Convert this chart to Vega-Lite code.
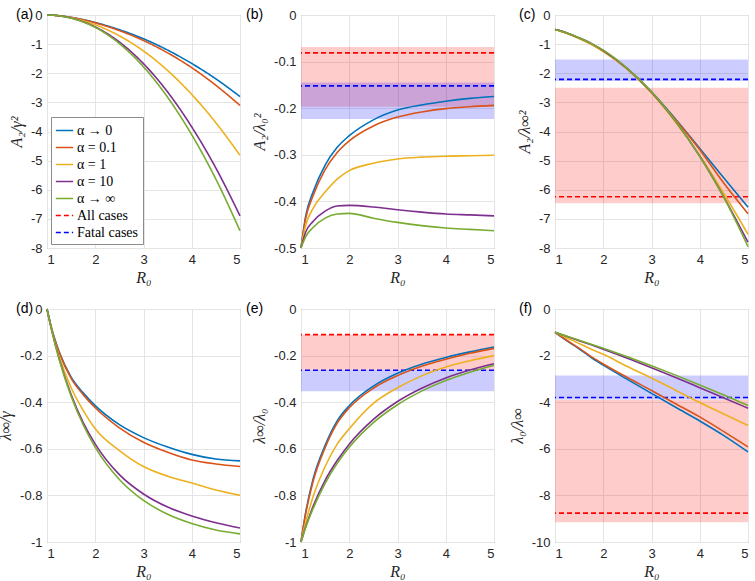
{
  "$schema": "https://vega.github.io/schema/vega-lite/v6.json",
  "padding": {"left": -3, "top": 7, "right": 5, "bottom": 5},
  "background": "white",
  "datasets": {
    "curves": [
      {"series": "α → 0", "R0": 1, "a": 0, "b": -0.5, "c": -0.5, "d": 0, "e": -1, "f": -1},
      {"series": "α → 0", "R0": 1.1, "a": -0.0043, "b": -0.43, "c": -0.545, "d": -0.087, "e": -0.87, "f": -1.149},
      {"series": "α → 0", "R0": 1.25, "a": -0.0238, "b": -0.38, "c": -0.63, "d": -0.1825, "e": -0.73, "f": -1.37},
      {"series": "α → 0", "R0": 1.5, "a": -0.0805, "b": -0.322, "c": -0.8, "d": -0.2925, "e": -0.585, "f": -1.709},
      {"series": "α → 0", "R0": 1.75, "a": -0.1598, "b": -0.284, "c": -1.0, "d": -0.36, "e": -0.48, "f": -2.083},
      {"series": "α → 0", "R0": 2, "a": -0.259, "b": -0.259, "c": -1.24, "d": -0.415, "e": -0.415, "f": -2.41},
      {"series": "α → 0", "R0": 2.5, "a": -0.506, "b": -0.225, "c": -1.85, "d": -0.4965, "e": -0.331, "f": -3.021},
      {"series": "α → 0", "R0": 3, "a": -0.816, "b": -0.204, "c": -2.64, "d": -0.552, "e": -0.276, "f": -3.623},
      {"series": "α → 0", "R0": 3.5, "a": -1.206, "b": -0.193, "c": -3.58, "d": -0.5925, "e": -0.237, "f": -4.219},
      {"series": "α → 0", "R0": 4, "a": -1.665, "b": -0.185, "c": -4.58, "d": -0.624, "e": -0.208, "f": -4.808},
      {"series": "α → 0", "R0": 4.5, "a": -2.193, "b": -0.179, "c": -5.6, "d": -0.644, "e": -0.184, "f": -5.435},
      {"series": "α → 0", "R0": 5, "a": -2.8, "b": -0.175, "c": -6.6, "d": -0.652, "e": -0.163, "f": -6.135},

      {"series": "α = 0.1", "R0": 1, "a": 0, "b": -0.5, "c": -0.5, "d": 0, "e": -1, "f": -1},
      {"series": "α = 0.1", "R0": 1.1, "a": -0.00435, "b": -0.435, "c": -0.545, "d": -0.0875, "e": -0.875, "f": -1.143},
      {"series": "α = 0.1", "R0": 1.25, "a": -0.0243, "b": -0.388, "c": -0.63, "d": -0.185, "e": -0.74, "f": -1.351},
      {"series": "α = 0.1", "R0": 1.5, "a": -0.083, "b": -0.332, "c": -0.8, "d": -0.2975, "e": -0.595, "f": -1.681},
      {"series": "α = 0.1", "R0": 1.75, "a": -0.1659, "b": -0.295, "c": -1.0, "d": -0.3675, "e": -0.49, "f": -2.041},
      {"series": "α = 0.1", "R0": 2, "a": -0.27, "b": -0.27, "c": -1.24, "d": -0.424, "e": -0.424, "f": -2.358},
      {"series": "α = 0.1", "R0": 2.5, "a": -0.5355, "b": -0.238, "c": -1.86, "d": -0.51, "e": -0.34, "f": -2.941},
      {"series": "α = 0.1", "R0": 3, "a": -0.876, "b": -0.219, "c": -2.65, "d": -0.572, "e": -0.286, "f": -3.497},
      {"series": "α = 0.1", "R0": 3.5, "a": -1.3, "b": -0.208, "c": -3.6, "d": -0.615, "e": -0.246, "f": -4.065},
      {"series": "α = 0.1", "R0": 4, "a": -1.809, "b": -0.201, "c": -4.63, "d": -0.648, "e": -0.216, "f": -4.63},
      {"series": "α = 0.1", "R0": 4.5, "a": -2.413, "b": -0.197, "c": -5.78, "d": -0.665, "e": -0.19, "f": -5.263},
      {"series": "α = 0.1", "R0": 5, "a": -3.104, "b": -0.194, "c": -6.82, "d": -0.676, "e": -0.169, "f": -5.917},

      {"series": "α = 1", "R0": 1, "a": 0, "b": -0.5, "c": -0.5, "d": 0, "e": -1, "f": -1},
      {"series": "α = 1", "R0": 1.1, "a": -0.0045, "b": -0.45, "c": -0.545, "d": -0.0913, "e": -0.913, "f": -1.095},
      {"series": "α = 1", "R0": 1.25, "a": -0.0259, "b": -0.415, "c": -0.635, "d": -0.2015, "e": -0.806, "f": -1.241},
      {"series": "α = 1", "R0": 1.5, "a": -0.095, "b": -0.38, "c": -0.81, "d": -0.338, "e": -0.676, "f": -1.479},
      {"series": "α = 1", "R0": 1.75, "a": -0.198, "b": -0.352, "c": -1.01, "d": -0.435, "e": -0.58, "f": -1.724},
      {"series": "α = 1", "R0": 2, "a": -0.334, "b": -0.334, "c": -1.26, "d": -0.514, "e": -0.514, "f": -1.946},
      {"series": "α = 1", "R0": 2.5, "a": -0.7155, "b": -0.318, "c": -1.87, "d": -0.6075, "e": -0.405, "f": -2.469},
      {"series": "α = 1", "R0": 3, "a": -1.236, "b": -0.309, "c": -2.68, "d": -0.676, "e": -0.338, "f": -2.959},
      {"series": "α = 1", "R0": 3.5, "a": -1.906, "b": -0.305, "c": -3.68, "d": -0.7175, "e": -0.287, "f": -3.484},
      {"series": "α = 1", "R0": 4, "a": -2.727, "b": -0.303, "c": -4.82, "d": -0.747, "e": -0.249, "f": -4.016},
      {"series": "α = 1", "R0": 4.5, "a": -3.7, "b": -0.302, "c": -6.13, "d": -0.777, "e": -0.222, "f": -4.505},
      {"series": "α = 1", "R0": 5, "a": -4.816, "b": -0.301, "c": -7.53, "d": -0.8, "e": -0.2, "f": -5.0},

      {"series": "α = 10", "R0": 1, "a": 0, "b": -0.5, "c": -0.5, "d": 0, "e": -1, "f": -1},
      {"series": "α = 10", "R0": 1.1, "a": -0.00465, "b": -0.465, "c": -0.534, "d": -0.0933, "e": -0.933, "f": -1.072},
      {"series": "α = 10", "R0": 1.25, "a": -0.0277, "b": -0.443, "c": -0.618, "d": -0.2118, "e": -0.847, "f": -1.181},
      {"series": "α = 10", "R0": 1.5, "a": -0.1053, "b": -0.421, "c": -0.785, "d": -0.3675, "e": -0.735, "f": -1.361},
      {"series": "α = 10", "R0": 1.75, "a": -0.2306, "b": -0.41, "c": -0.975, "d": -0.4875, "e": -0.65, "f": -1.538},
      {"series": "α = 10", "R0": 2, "a": -0.4086, "b": -0.4086, "c": -1.22, "d": -0.58, "e": -0.58, "f": -1.724},
      {"series": "α = 10", "R0": 2.5, "a": -0.927, "b": -0.412, "c": -1.84, "d": -0.711, "e": -0.474, "f": -2.11},
      {"series": "α = 10", "R0": 3, "a": -1.672, "b": -0.418, "c": -2.65, "d": -0.794, "e": -0.397, "f": -2.519},
      {"series": "α = 10", "R0": 3.5, "a": -2.644, "b": -0.423, "c": -3.65, "d": -0.85, "e": -0.34, "f": -2.941},
      {"series": "α = 10", "R0": 4, "a": -3.843, "b": -0.427, "c": -4.85, "d": -0.888, "e": -0.296, "f": -3.378},
      {"series": "α = 10", "R0": 4.5, "a": -5.255, "b": -0.429, "c": -6.25, "d": -0.917, "e": -0.262, "f": -3.817},
      {"series": "α = 10", "R0": 5, "a": -6.896, "b": -0.431, "c": -7.8, "d": -0.94, "e": -0.235, "f": -4.255},

      {"series": "α → ∞", "R0": 1, "a": 0, "b": -0.5, "c": -0.5, "d": 0, "e": -1, "f": -1},
      {"series": "α → ∞", "R0": 1.1, "a": -0.00475, "b": -0.475, "c": -0.542, "d": -0.0936, "e": -0.936, "f": -1.068},
      {"series": "α → ∞", "R0": 1.25, "a": -0.0285, "b": -0.456, "c": -0.621, "d": -0.2143, "e": -0.857, "f": -1.167},
      {"series": "α → ∞", "R0": 1.5, "a": -0.109, "b": -0.436, "c": -0.779, "d": -0.374, "e": -0.748, "f": -1.337},
      {"series": "α → ∞", "R0": 1.75, "a": -0.2402, "b": -0.427, "c": -0.973, "d": -0.4969, "e": -0.6625, "f": -1.509},
      {"series": "α → ∞", "R0": 2, "a": -0.4257, "b": -0.4257, "c": -1.208, "d": -0.5936, "e": -0.5936, "f": -1.685},
      {"series": "α → ∞", "R0": 2.5, "a": -0.981, "b": -0.436, "c": -1.833, "d": -0.7316, "e": -0.4877, "f": -2.05},
      {"series": "α → ∞", "R0": 3, "a": -1.78, "b": -0.445, "c": -2.636, "d": -0.8216, "e": -0.4108, "f": -2.434},
      {"series": "α → ∞", "R0": 3.5, "a": -2.825, "b": -0.452, "c": -3.639, "d": -0.881, "e": -0.3524, "f": -2.838},
      {"series": "α → ∞", "R0": 4, "a": -4.113, "b": -0.457, "c": -4.852, "d": -0.9207, "e": -0.3069, "f": -3.258},
      {"series": "α → ∞", "R0": 4.5, "a": -5.635, "b": -0.46, "c": -6.264, "d": -0.9485, "e": -0.271, "f": -3.69},
      {"series": "α → ∞", "R0": 5, "a": -7.408, "b": -0.463, "c": -7.951, "d": -0.9652, "e": -0.2413, "f": -4.144}
    ],
    "refs": [
      {"panel": "b", "series": "All cases", "value": -0.0813, "lo": -0.0685, "hi": -0.197},
      {"panel": "b", "series": "Fatal cases", "value": -0.152, "lo": -0.1447, "hi": -0.223},
      {"panel": "c", "series": "All cases", "value": -6.24, "lo": -2.5, "hi": -6.46},
      {"panel": "c", "series": "Fatal cases", "value": -2.21, "lo": -1.53, "hi": -2.27},
      {"panel": "e", "series": "All cases", "value": -0.11, "lo": -0.11, "hi": -0.263},
      {"panel": "e", "series": "Fatal cases", "value": -0.263, "lo": -0.263, "hi": -0.353},
      {"panel": "f", "series": "All cases", "value": -8.76, "lo": -3.9, "hi": -9.15},
      {"panel": "f", "series": "Fatal cases", "value": -3.8, "lo": -2.85, "hi": -3.88}
    ]
  },
  "columns": 3,
  "spacing": 61,
  "bounds": "flush",
  "resolve": {"legend": {"color": "independent", "strokeDash": "independent"}},
  "concat": [
    {
      "width": 193, "height": 233,
      "title": {"text": "(a)", "dx": -31},
      "data": {"name": "curves"},
      "mark": {"type": "line", "strokeWidth": 1.6, "interpolate": "monotone"},
      "encoding": {
        "x": {"field": "R0", "type": "quantitative", "scale": {"domain": [1, 5], "nice": false, "zero": false}, "axis": {"title": "R₀", "values": [1, 2, 3, 4, 5]}},
        "y": {"field": "a", "type": "quantitative", "scale": {"domain": [-8, 0], "nice": false, "zero": false}, "axis": {"title": "A₂/γ²", "values": [0, -1, -2, -3, -4, -5, -6, -7, -8]}},
        "color": {"field": "series", "type": "nominal", "title": null,
          "scale": {"domain": ["α → 0", "α = 0.1", "α = 1", "α = 10", "α → ∞", "All cases", "Fatal cases"], "range": ["#0072BD", "#D95319", "#EDB120", "#7E2F8E", "#77AC30", "#FF0000", "#0000FF"]},
          "legend": {"orient": "bottom-left", "offset": 4}},
        "strokeDash": {"field": "series", "type": "nominal", "title": null,
          "scale": {"domain": ["α → 0", "α = 0.1", "α = 1", "α = 10", "α → ∞", "All cases", "Fatal cases"], "range": [[1, 0], [1, 0], [1, 0], [1, 0], [1, 0], [5, 3], [5, 3]]},
          "legend": {"orient": "bottom-left", "offset": 4}}
      }
    },
    {
      "width": 193, "height": 233,
      "title": {"text": "(b)", "dx": -55},
      "layer": [
        {"data": {"name": "refs"}, "transform": [{"filter": "datum.panel == 'b'"}],
         "mark": {"type": "rect", "opacity": 0.2},
         "encoding": {
           "y": {"field": "lo", "type": "quantitative", "scale": {"domain": [-0.5, 0], "nice": false, "zero": false}, "axis": {"title": "A₂/λ₀²", "values": [0, -0.1, -0.2, -0.3, -0.4, -0.5]}},
           "y2": {"field": "hi"},
           "color": {"field": "series", "type": "nominal", "legend": null}}},
        {"data": {"name": "refs"}, "transform": [{"filter": "datum.panel == 'b'"}],
         "mark": {"type": "rule", "strokeDash": [5, 3], "strokeWidth": 1.6},
         "encoding": {
           "y": {"field": "value", "type": "quantitative", "axis": {"title": "A₂/λ₀²", "values": [0, -0.1, -0.2, -0.3, -0.4, -0.5]}},
           "color": {"field": "series", "type": "nominal", "legend": null}}},
        {"data": {"name": "curves"},
         "mark": {"type": "line", "strokeWidth": 1.6, "interpolate": "monotone"},
         "encoding": {
           "x": {"field": "R0", "type": "quantitative", "scale": {"domain": [1, 5], "nice": false, "zero": false}, "axis": {"title": "R₀", "values": [1, 2, 3, 4, 5]}},
           "y": {"field": "b", "type": "quantitative", "axis": {"title": "A₂/λ₀²", "values": [0, -0.1, -0.2, -0.3, -0.4, -0.5]}},
           "color": {"field": "series", "type": "nominal", "legend": null}}}
      ]
    },
    {
      "width": 193, "height": 233,
      "title": {"text": "(c)", "dx": -36},
      "layer": [
        {"data": {"name": "refs"}, "transform": [{"filter": "datum.panel == 'c'"}],
         "mark": {"type": "rect", "opacity": 0.2},
         "encoding": {
           "y": {"field": "lo", "type": "quantitative", "scale": {"domain": [-8, 0], "nice": false, "zero": false}, "axis": {"title": "A₂/λ∞²", "values": [0, -1, -2, -3, -4, -5, -6, -7, -8]}},
           "y2": {"field": "hi"},
           "color": {"field": "series", "type": "nominal", "legend": null}}},
        {"data": {"name": "refs"}, "transform": [{"filter": "datum.panel == 'c'"}],
         "mark": {"type": "rule", "strokeDash": [5, 3], "strokeWidth": 1.6},
         "encoding": {
           "y": {"field": "value", "type": "quantitative", "axis": {"title": "A₂/λ∞²", "values": [0, -1, -2, -3, -4, -5, -6, -7, -8]}},
           "color": {"field": "series", "type": "nominal", "legend": null}}},
        {"data": {"name": "curves"},
         "mark": {"type": "line", "strokeWidth": 1.6, "interpolate": "monotone"},
         "encoding": {
           "x": {"field": "R0", "type": "quantitative", "scale": {"domain": [1, 5], "nice": false, "zero": false}, "axis": {"title": "R₀", "values": [1, 2, 3, 4, 5]}},
           "y": {"field": "c", "type": "quantitative", "axis": {"title": "A₂/λ∞²", "values": [0, -1, -2, -3, -4, -5, -6, -7, -8]}},
           "color": {"field": "series", "type": "nominal", "legend": null}}}
      ]
    },
    {
      "width": 193, "height": 233,
      "title": {"text": "(d)", "dx": -31},
      "data": {"name": "curves"},
      "mark": {"type": "line", "strokeWidth": 1.6, "interpolate": "monotone"},
      "encoding": {
        "x": {"field": "R0", "type": "quantitative", "scale": {"domain": [1, 5], "nice": false, "zero": false}, "axis": {"title": "R₀", "values": [1, 2, 3, 4, 5]}},
        "y": {"field": "d", "type": "quantitative", "scale": {"domain": [-1, 0], "nice": false, "zero": false}, "axis": {"title": "λ∞/γ", "values": [0, -0.2, -0.4, -0.6, -0.8, -1]}},
        "color": {"field": "series", "type": "nominal", "legend": null}
      }
    },
    {
      "width": 193, "height": 233,
      "title": {"text": "(e)", "dx": -55},
      "layer": [
        {"data": {"name": "refs"}, "transform": [{"filter": "datum.panel == 'e'"}],
         "mark": {"type": "rect", "opacity": 0.2},
         "encoding": {
           "y": {"field": "lo", "type": "quantitative", "scale": {"domain": [-1, 0], "nice": false, "zero": false}, "axis": {"title": "λ∞/λ₀", "values": [0, -0.2, -0.4, -0.6, -0.8, -1]}},
           "y2": {"field": "hi"},
           "color": {"field": "series", "type": "nominal", "legend": null}}},
        {"data": {"name": "refs"}, "transform": [{"filter": "datum.panel == 'e'"}],
         "mark": {"type": "rule", "strokeDash": [5, 3], "strokeWidth": 1.6},
         "encoding": {
           "y": {"field": "value", "type": "quantitative", "axis": {"title": "λ∞/λ₀", "values": [0, -0.2, -0.4, -0.6, -0.8, -1]}},
           "color": {"field": "series", "type": "nominal", "legend": null}}},
        {"data": {"name": "curves"},
         "mark": {"type": "line", "strokeWidth": 1.6, "interpolate": "monotone"},
         "encoding": {
           "x": {"field": "R0", "type": "quantitative", "scale": {"domain": [1, 5], "nice": false, "zero": false}, "axis": {"title": "R₀", "values": [1, 2, 3, 4, 5]}},
           "y": {"field": "e", "type": "quantitative", "axis": {"title": "λ∞/λ₀", "values": [0, -0.2, -0.4, -0.6, -0.8, -1]}},
           "color": {"field": "series", "type": "nominal", "legend": null}}}
      ]
    },
    {
      "width": 193, "height": 233,
      "title": {"text": "(f)", "dx": -36},
      "layer": [
        {"data": {"name": "refs"}, "transform": [{"filter": "datum.panel == 'f'"}],
         "mark": {"type": "rect", "opacity": 0.2},
         "encoding": {
           "y": {"field": "lo", "type": "quantitative", "scale": {"domain": [-10, 0], "nice": false, "zero": false}, "axis": {"title": "λ₀/λ∞", "values": [0, -2, -4, -6, -8, -10]}},
           "y2": {"field": "hi"},
           "color": {"field": "series", "type": "nominal", "legend": null}}},
        {"data": {"name": "refs"}, "transform": [{"filter": "datum.panel == 'f'"}],
         "mark": {"type": "rule", "strokeDash": [5, 3], "strokeWidth": 1.6},
         "encoding": {
           "y": {"field": "value", "type": "quantitative", "axis": {"title": "λ₀/λ∞", "values": [0, -2, -4, -6, -8, -10]}},
           "color": {"field": "series", "type": "nominal", "legend": null}}},
        {"data": {"name": "curves"},
         "mark": {"type": "line", "strokeWidth": 1.6, "interpolate": "monotone"},
         "encoding": {
           "x": {"field": "R0", "type": "quantitative", "scale": {"domain": [1, 5], "nice": false, "zero": false}, "axis": {"title": "R₀", "values": [1, 2, 3, 4, 5]}},
           "y": {"field": "f", "type": "quantitative", "axis": {"title": "λ₀/λ∞", "values": [0, -2, -4, -6, -8, -10]}},
           "color": {"field": "series", "type": "nominal", "legend": null}}}
      ]
    }
  ],
  "config": {
    "view": {"stroke": "#8c8c8c", "strokeWidth": 1},
    "axis": {
      "grid": true, "gridColor": "#e4e4e4", "gridWidth": 1,
      "domain": false, "ticks": false,
      "labelFont": "Liberation Sans", "labelFontSize": 13, "labelColor": "#262626", "labelPadding": 5,
      "labelExpr": "replace(format(datum.value, '~g'), '−', '-')",
      "titleFont": "Liberation Serif", "titleFontStyle": "italic", "titleFontWeight": "normal", "titleFontSize": 16, "titleColor": "#262626"
    },
    "axisX": {"labelPadding": 5, "titlePadding": 3},
    "axisY": {"titlePadding": 6},
    "title": {"anchor": "start", "frame": "group", "offset": 0, "baseline": "middle", "dy": 17, "font": "Liberation Sans", "fontSize": 14, "fontWeight": "normal", "color": "#000000"},
    "legend": {
      "strokeColor": "#8c8c8c", "fillColor": "white", "padding": 4,
      "labelFont": "Liberation Serif", "labelFontSize": 14, "labelColor": "#000000", "labelOffset": 3,
      "symbolType": "stroke", "symbolSize": 300, "symbolStrokeWidth": 1.6, "rowPadding": 0
    }
  }
}
